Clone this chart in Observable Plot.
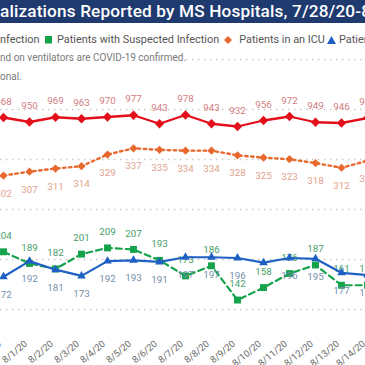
<!DOCTYPE html>
<html><head><meta charset="utf-8">
<script src="https://cdn.jsdelivr.net/npm/d3@7"></script>
<script src="https://cdn.jsdelivr.net/npm/@observablehq/plot@0.6"></script>
<style>
html,body{margin:0;padding:0;background:#fff;overflow:hidden;width:365px;height:365px;}
#wrap{position:relative;width:365px;height:365px;overflow:hidden;background:#fff;}
#wrap svg{position:absolute;left:0;top:0;}
.row{position:absolute;left:0;width:365px;overflow:hidden;z-index:5;}
.line{position:absolute;top:0;white-space:nowrap;}
#title{top:0;height:23px;background:#1e3a6f;}
#title .line{color:#fff;font:500 17.2px Roboto,sans-serif;line-height:23px;letter-spacing:0.15px;}
#legend{top:31px;height:18px;}
#legend .line{color:#555;font:400 10.9px Roboto,sans-serif;line-height:18px;display:flex;align-items:center;}
#legend svg{position:static;}
#note1{top:51px;height:14px;}
#note2{top:70px;height:14px;}
.note .line{color:#7a7a7a;font:400 10px Roboto,sans-serif;line-height:14px;background:#fff;}
</style></head>
<body>
<div id="wrap">
  <div id="chart"></div>
  <div id="title" class="row"><span class="line"><span class="pre">COVID-19 Hospit</span>alizations Reported by MS Hospitals, 7/28/20-8/14/20</span></div>
  <div id="legend" class="row" data-shift="-3"><span class="line"><span class="pre"><svg width="8" height="8" style="margin:0 5px 0 0"><circle cx="4" cy="4" r="4" fill="#e3101c"/></svg>Patients with Confirmed </span>Infection<svg width="7.5" height="7.5" style="margin:0 5px 0 5px"><rect width="7.5" height="7.5" fill="#14a24b"/></svg>Patients with Suspected Infection<svg width="8" height="8" style="margin:0 7px 0 5px"><path d="M4 0L8 4L4 8L0 4Z" fill="#e8692e"/></svg>Patients in an ICU<svg width="9" height="8" style="margin:0 3px 0 2px"><path d="M4.5 0L9 8L0 8Z" fill="#1f60c4"/></svg>Patients on Ventilators</span></div>
  <div id="note1" class="row note"><span class="line"><span class="pre">All patients in an ICU a</span>nd on ventilators are COVID-19 confirmed.</span></div>
  <div id="note2" class="row note"><span class="line"><span class="pre">Data are provisi</span>onal.</span></div>
</div>
<script>
const dates = ["7/31/20","8/1/20","8/2/20","8/3/20","8/4/20","8/5/20","8/6/20","8/7/20","8/8/20","8/9/20","8/10/20","8/11/20","8/12/20","8/13/20","8/14/20"];
const confirmed   = [968,950,969,963,970,977,943,978,943,932,956,972,949,946,966];
const icu         = [302,307,311,314,329,337,335,334,334,328,325,323,318,312,321];
const suspected   = [204,189,182,201,209,207,193,173,186,142,158,176,187,161,161];
const ventilators = [172,192,181,173,192,193,191,197,197,196,190,196,195,177,174];
const hiddenVentLabels = ["8/10/20"];
const gridTicks = [200,400,600,800,1000,1200];

const RED="#e3101c", ORANGE="#e8692e", GREEN="#14a24b", BLUE="#1f60c4";
const rows = vals => dates.map((d,i)=>({date:d, value:vals[i]}));
const conf = rows(confirmed), icuR = rows(icu), susp = rows(suspected), vent = rows(ventilators);
const xs = {type:"point", domain:dates, range:[3,367], padding:0};
const lab = {fontSize:9.8, fontFamily:"Roboto"};

const back = Plot.plot({
  width:365, height:365, margin:0,
  style:{background:"transparent"},
  x:{...xs, axis:null},
  y:{domain:[0,1200], range:[359,59], axis:null},
  marks:[
    Plot.ruleY(gridTicks,{stroke:"#c2c2c2", strokeWidth:1.3, strokeDasharray:"1.3,4.7"}),
    Plot.line(conf,{x:"date",y:"value",stroke:RED,strokeWidth:2.3}),
    Plot.dot(conf,{x:"date",y:"value",symbol:"diamond2",r:4.2,fill:RED,stroke:"none"}),
    Plot.text(conf,{x:"date",y:"value",text:"value",dy:-16,fill:"#d27c80",...lab})
  ]
});

const front = Plot.plot({
  width:365, height:365, marginLeft:0, marginRight:0, marginTop:0, marginBottom:35,
  style:{background:"transparent", fontFamily:"Roboto", fontSize:"9.5px", color:"#686868"},
  x:{...xs, axis:null},
  y:{domain:[100,400], range:[332.2,98.8], axis:null},
  marks:[
    Plot.axisX({tickRotate:-40, tickSize:0, tickPadding:4, label:null, dx:-3.5, dy:8}),
    Plot.line(icuR,{x:"date",y:"value",stroke:ORANGE,strokeWidth:2.4,strokeDasharray:"2.5,3.5"}),
    Plot.dot(icuR,{x:"date",y:"value",symbol:"diamond2",r:3.7,fill:ORANGE,stroke:"none"}),
    Plot.text(icuR,{x:"date",y:"value",text:"value",dy:18,fill:"#e2a28c",...lab}),
    Plot.line(susp,{x:"date",y:"value",stroke:GREEN,strokeWidth:2.2,strokeDasharray:"6,4"}),
    Plot.dot(susp,{x:"date",y:"value",symbol:"square",r:3.9,fill:GREEN,stroke:"none"}),
    Plot.text(susp,{x:"date",y:"value",text:"value",dy:-16,fill:"#47a068",...lab}),
    Plot.line(vent,{x:"date",y:"value",stroke:BLUE,strokeWidth:2.2}),
    Plot.dot(vent,{x:"date",y:"value",symbol:"triangle",r:3.2,fill:BLUE,stroke:"none"}),
    Plot.text(vent.filter(d=>!hiddenVentLabels.includes(d.date)),{x:"date",y:"value",text:"value",dy:18,fill:"#7390ad",...lab})
  ]
});
const chart = document.getElementById("chart");
chart.append(back, front);

document.querySelectorAll(".row").forEach(r=>{
  const l = r.querySelector(".line");
  const pre = l.querySelector(".pre");
  const shift = +(r.dataset.shift || 0);
  l.style.left = (-pre.getBoundingClientRect().width + shift) + "px";
});
</script>
</body></html>
